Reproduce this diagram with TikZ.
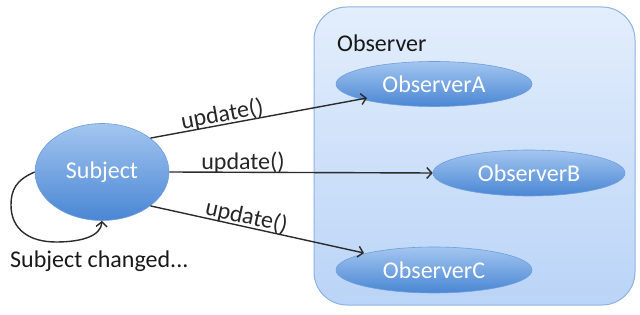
\documentclass[tikz,border=0pt]{standalone}
\usepackage{fontspec}
\setmainfont{Carlito}
\usetikzlibrary{arrows.meta,shapes.geometric}
\definecolor{linec}{HTML}{2B2B2B}
\tikzset{
  ovalnode/.style={ellipse, inner sep=0pt, minimum width=#1, top color=blue!0!white!0!cyan!0!white!0!blue!0!white, draw=ellipsedraw, line width=0.6pt, text=white,
    top color=ellipsetop, bottom color=ellipsebot, font=\fontsize{24}{28}\selectfont},
  conn/.style={draw=linec, line width=1.4pt, -{Straight Barb[length=5pt,width=11pt,line width=1.4pt]}},
  lbl/.style={sloped, anchor=base, yshift=3pt, font=\fontsize{24}{28}\selectfont, text=black!85, inner sep=0pt}
}
\definecolor{ellipsetop}{HTML}{A3C6F0}
\definecolor{ellipsebot}{HTML}{4A86D4}
\definecolor{ellipsedraw}{HTML}{6E9EDC}
\definecolor{boxtop}{HTML}{E3EEFC}
\definecolor{boxbot}{HTML}{BAD4F7}
\definecolor{boxdraw}{HTML}{8DB2E6}
\begin{document}
\begin{tikzpicture}[x=1pt,y=-1pt]
\useasboundingbox (0,0) rectangle (640,315);
% container
\path[top color=boxtop, bottom color=boxbot, draw=boxdraw, line width=1pt, rounded corners=33pt]
  (314,7) rectangle (635,305);
\node[anchor=base west, inner sep=0pt, font=\fontsize{24}{28}\selectfont, text=black!90] (obslbl) at (337,52) {Observer};
% nodes
\node[ovalnode=196pt, minimum height=45pt] (A) at (434,84) {ObserverA};
\node[ovalnode=192pt, minimum height=46pt] (B) at (529,173) {ObserverB};
\node[ovalnode=196pt, minimum height=46pt] (C) at (434,270) {ObserverC};
\node[ovalnode=134pt, minimum height=97pt] (S) at (102,172) {Subject};
% connectors
\coordinate (Atip) at (367,98);
\coordinate (Ctip) at (364,253);
\draw[conn] (S.35) -- node[lbl, pos=0.34] (la) {update()} (Atip);
\draw[conn] (S.east) -- node[lbl, pos=0.28] (lb) {update()} (B.west);
\draw[conn] (S.-35) -- node[lbl, pos=0.44] (lc) {update()} (Ctip);
% self loop
\coordinate (l1) at (11,205);
\coordinate (l2) at (56,242);
\draw[conn] (S.west) .. controls (16,180) and (11,190) .. (l1)
  .. controls (11,230) and (30,242) .. (l2)
  .. controls (82,242) and (101,236) .. (S.south);
\node[anchor=base west, inner sep=0pt, font=\fontsize{24}{28}\selectfont, text=black!90] (chg) at (10,268) {Subject changed...};
\end{tikzpicture}
\end{document}
